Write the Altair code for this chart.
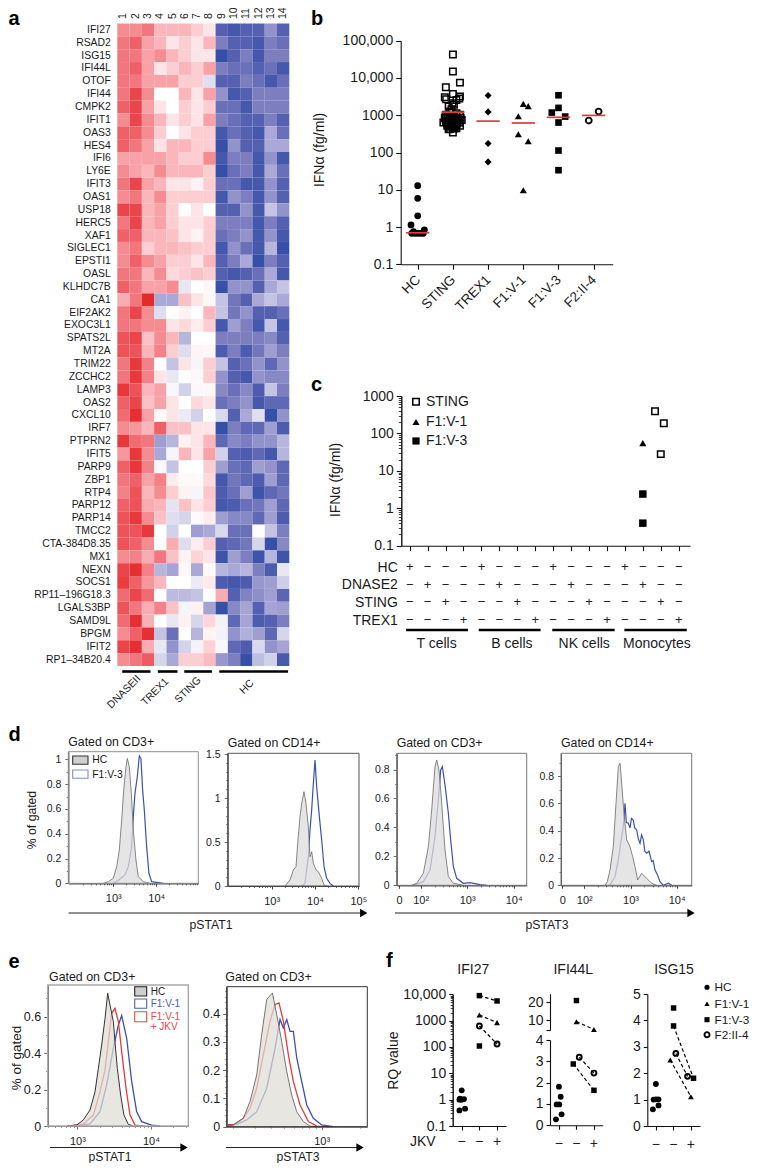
import numpy as np
import pandas as pd
import altair as alt

FONT = "Liberation Sans"
W, H = 742, 1155

# ---------- panel a ----------
genes = ["IFI27","RSAD2","ISG15","IFI44L","OTOF","IFI44","CMPK2","IFIT1","OAS3","HES4","IFI6","LY6E","IFIT3","OAS1","USP18","HERC5","XAF1","SIGLEC1","EPSTI1","OASL","KLHDC7B","CA1","EIF2AK2","EXOC3L1","SPATS2L","MT2A","TRIM22","ZCCHC2","LAMP3","OAS2","CXCL10","IRF7","PTPRN2","IFIT5","PARP9","ZBP1","RTP4","PARP12","PARP14","TMCC2","CTA-384D8.35","MX1","NEXN","SOCS1","RP11–196G18.3","LGALS3BP","SAMD9L","BPGM","IFIT2","RP1–34B20.4"]
heat = [
[5,5,6,3,3,3,2,1,-7,-8,-7,-7,-4,-7],
[6,7,4,3,1,2,1,3,-5,-7,-7,-8,-5,-6],
[6,6,4,5,3,2,1,1,-9,-7,-5,-8,-5,-5],
[6,7,4,1,2,3,2,4,-5,-6,-6,-7,-6,-8],
[6,6,4,4,4,2,2,-1,-7,-7,-5,-6,-8,-6],
[6,8,5,0,0,3,1,4,-4,-8,-7,-5,-5,-5],
[7,8,4,1,0,2,1,2,-6,-6,-8,-5,-5,-5],
[5,8,5,3,1,2,1,4,-5,-6,-7,-7,-5,-7],
[7,7,5,2,0,1,2,2,-8,-6,-7,-8,-3,-6],
[7,6,4,1,3,3,2,2,-9,-4,-7,-7,-3,-3],
[4,4,4,4,3,2,2,5,-8,-5,-5,-8,-4,-8],
[5,4,3,5,3,3,3,2,-9,-6,-5,-8,-3,-6],
[6,8,4,3,1,1,0.5,2,-6,-6,-8,-8,-4,-7],
[5,6,3,5,2,2,2,2,-8,-4,-5,-8,-4,-7],
[8,8,3,4,2,0,1,0,-7,-7,-4,-8,-2,-4],
[6,8,3,4,2,1,1,2,-5,-5,-5,-8,-5,-7],
[7,7,3,3,2.5,1,0.5,2,-6,-5,-4,-8,-4,-8],
[5,6,2,3,3,2.5,2,2,-8,-4,-6,-8,-2.5,-9],
[5,7,5,4,2,2,1,3,-7,-5,-3,-9,-5,-7],
[6,6,3,5,1.5,2,2.5,2,-7,-8,-7,-6,-3,-8],
[7,6,4,4,5,-0.7,0,0.3,-9,-4,-4,-7,-3,-2],
[3.5,6,9,-3,-3,2.5,1,0.3,-2,-5.5,-7,-3,-2,-3],
[6,8,5,-1,0,0.5,0,3,-2,-5.5,-4,-7,-7,-6],
[6,6,5,5,1,1.5,0.7,2,-8,-3.5,-5,-8,-2,-8],
[7.5,8,2.5,5,3,-2.5,0,0,-5,-5,-5,-5,-4.5,-7],
[7.5,7.5,3,5.5,2,-1,0.4,0.3,-7.5,-5,-7.5,-5.5,-3.5,-5],
[6,8.5,5.5,0,-2,1,-0.3,2,-2,-7,-6,-4,-6.5,-4],
[6,8.5,5.5,1,-0.7,0,0.3,2,-4,-7,-8,-4,-4.5,-4.5],
[8.5,7.5,3,4,-0.2,-1.5,0.3,0.3,-4.5,-6,-4.5,-7.5,-2,-5],
[7,8,2.5,4,1,0,1.5,1,-6,-5,-4,-8,-6.5,-6.5],
[6.5,8.8,4,0.2,1,-0.6,-1.5,0,-1.2,-7,-3,-1,-9,-4],
[5,4.5,3,7,2.5,2.5,1,1,-9,-5,-6.5,-6.5,-3.5,-7.5],
[8.5,6.5,6,-3.5,-2.5,0.5,1,3,-6.5,-4.5,-5,-4,-4,-2.5],
[4.5,8.5,5,-3,-0.3,3,1,4,-1.5,-7,-7.5,-6.5,-8,-2.5],
[7,8.5,5.5,0.3,-2,0,0,2,-3.5,-6,-6.5,-3.5,-4,-6.5],
[6,7,4,5.5,0.7,0.2,0.2,1.5,-8,-5.5,-6.5,-7.5,-3.5,-6.5],
[5.5,7.5,3,5,2,0.5,-0.3,2.3,-7.5,-6,-3.5,-8.5,-6.5,-5.5],
[7,7.5,3.5,3,-0.8,2.5,1,2,-8,-7.5,-6,-5.5,-3.5,-6.5],
[7.5,8.5,5,2.5,-1,-1.3,0.2,0.7,-3.5,-4.5,-4.5,-6.5,-3.5,-7.5],
[7.5,7.5,8.5,0,-1.5,0,-3.5,-3,-1.2,-6,-6,0.1,-2,-5],
[7.5,7,5,0,3.5,-1,0.7,2,-7,-6.5,-5.5,-1.3,-9,-4.5],
[5,5.5,3.5,6,2.5,0.5,1.7,1,-8.5,-3.5,-5,-8.5,-2.5,-8.5],
[8,8.8,5.5,-2.5,-3.2,0.3,-3,0.2,-2.5,-3,-2.5,-5,-7.5,-0.7],
[8.3,7,4.5,3,0,0,-0.6,0.8,-7.5,-8,-7.5,-3.8,-3.5,-1.6],
[6.5,8,6.5,0,-2.3,-2.3,-2,0,3.5,-7,-4.8,-4.2,-3.5,-6.7],
[7.5,6,3.5,5.5,2.5,-0.3,0.5,-3.3,-9,-4.5,-3.2,-7,-3.2,-3.5],
[6.5,8.8,3.3,0,-0.7,0.5,-1.3,1.6,-0.4,-6.5,-3.2,-7.5,-7,-5],
[5,7,8.8,-2,-6,0,-2.5,0.5,-0.4,-4,-2.7,-3.5,-6.5,-1.3],
[8,8.8,3.5,-0.7,-4,-1.4,-0.4,1.8,-0.2,-6.5,-7.5,-1.2,-4,-3.2],
[5,6,7.2,-1.3,-3,2,2,2.8,-3.8,-5,-9,-2.2,-1.5,-7.8],
]
columns = list(range(1, 15))
a_groups = ["DNASEII", "TREX1", "STING", "HC"]
a_group_start = [0.4, 3.3, 5.45, 8.3]
a_group_end = [2.7, 4.9, 7.7, 13.9]

# ---------- panel b ----------
b_names = ["HC", "STING", "TREX1", "F1:V-1", "F1:V-3", "F2:II-4"]
b_hc_x = [0, 0, 0, -0.19, 0.19, -0.17, -0.08, 0, 0.09, 0.16, -0.12]
b_hc_y = [12.9, 5.9, 2.0, 1.14, 0.84, 0.68, 0.68, 0.68, 0.68, 0.68, 0.75]
b_st_x = [1,1,1.2,0.8,1,0.77,1.2,0.81,1.1,0.99,1.18,0.88,1.03,0.96,0.91,1.1,0.81,1.2,1,0.77,0.91,1.1,1.25,0.81,1,1.18,0.73,0.91,1.08,0.84,1.2,0.99,1.1,0.88,1,
          0.78,0.86,0.95,1.04,1.14,1.22,0.8,0.9,0.98,1.06,1.16,0.84,0.94,1.02,1.12,0.88,0.97,1.07,0.92,1.03]
b_st_y = [42500,14900,7500,5650,3740,3050,3180,2690,2580,2100,2800,1710,1900,1450,1260,1130,1030,1030,925,830,780,780,750,680,680,640,640,590,550,520,520,480,450,420,345,
          870,900,860,880,850,860,720,710,730,700,720,600,610,590,600,500,510,490,430,440]
b_tr_x = [2, 2, 2, 2]
b_tr_y = [3380, 1230, 174, 56]
b_v1_x = [3, 3.14, 2.86, 2.86, 3.14, 3]
b_v1_y = [2020, 1750, 940, 310, 200, 9.7]
b_v3_x = [4, 4, 3.81, 4.19, 4, 4, 4]
b_v3_y = [3440, 1575, 1180, 920, 637, 113, 33.5]
b_f2_x = [4.86, 5.14]
b_f2_y = [720, 1255]
b_median = [0.70, 1210, 695, 620, 880, 990]

# ---------- panel c ----------
c_st_x, c_st_y = [13.68, 14.17, 14.0], [390, 187, 28]
c_v1_x, c_v1_y = [13.0], [55]
c_v3_x, c_v3_y = [13.0, 13.0], [2.4, 0.4]
c_rows = ["HC", "DNASE2", "STING", "TREX1"]
c_groups = ["T cells", "B cells", "NK cells", "Monocytes"]
c_group_start = [-0.2, 3.85, 7.95, 11.97]
c_group_end = [3.25, 7.3, 11.43, 15.45]
c_group_mid = [1.5, 5.7, 9.73, 13.78]

# ---------- panel d ----------
d1_hc_x = [2.767,2.884,3,3.078,3.14,3.194,3.248,3.295,3.326,3.372,3.419,3.465,3.527,3.581,3.698,3.853]
d1_hc_y = [0,.013,.04,.134,.269,.511,.78,.941,1.008,.941,.726,.43,.188,.054,.013,0]
d1_pt_x = [3,3.116,3.271,3.349,3.426,3.465,3.504,3.558,3.605,3.643,3.682,3.721,3.775,3.829,3.891,4.163]
d1_pt_y = [0,.022,.067,.134,.296,.538,.726,.86,1.027,1.008,.753,.591,.296,.081,.013,0]
d2_hc_x = [3.308,3.423,3.5,3.562,3.6,3.654,3.692,3.746,3.792,3.846,3.885,3.923,3.962,4.023,4.077,4.154,4.208,4.269]
d2_hc_y = [0,.068,.182,.22,.485,.788,.939,1.072,.939,.67,.333,.39,.258,.182,.163,.087,.011,0]
d2_pt_x = [3.692,3.769,3.846,3.885,3.923,3.962,4,4.038,4.1,4.154,4.208,4.269,4.346,4.423]
d2_pt_y = [0,.03,.333,.636,.864,1.167,1.432,1.129,.788,.523,.22,.087,.03,0]
d3_hc_x = [1.806,1.914,2.057,2.165,2.237,2.308,2.344,2.394,2.452,2.523,2.595,2.703,2.918]
d3_hc_y = [0,.014,.083,.267,.521,.82,.866,.797,.567,.244,.06,.014,0]
d3_pt_x = [1.842,2.057,2.201,2.308,2.38,2.43,2.466,2.523,2.595,2.645,2.703,2.774,2.918,3.061,3.276,3.419]
d3_pt_y = [0,.025,.106,.336,.59,.797,.82,.694,.498,.313,.129,.048,.014,.018,.005,0]
d4_hc_x = [2.448,2.498,2.556,2.628,2.686,2.736,2.773,2.809,2.859,2.917,2.989,3.047,3.097,3.155,3.242,3.35,3.458,3.567]
d4_hc_y = [0,.027,.112,.284,.601,.87,.895,.748,.528,.333,.284,.21,.137,.039,.088,.051,.015,0]
d4_pt_x = [2.556,2.664,2.736,2.809,2.845,2.881,2.91,2.953,2.99,3.02,3.061,3.09,3.134,3.17,3.206,3.24,3.278,3.31,3.35,3.4,3.458,3.49,3.531,3.58,3.639,3.711,3.819,3.892]
d4_pt_y = [0,.064,.186,.357,.43,.601,.46,.455,.42,.49,.479,.42,.406,.34,.308,.37,.333,.25,.235,.25,.174,.18,.112,.08,.027,0,.015,0]

# ---------- panel e ----------
e1_hc_x = [2.855,2.991,3.081,3.172,3.24,3.285,3.33,3.376,3.412,3.443,3.489,3.511,3.543,3.588,3.633,3.692,3.76]
e1_hc_y = [0,.005,.033,.088,.188,.316,.444,.59,.728,.664,.572,.463,.316,.170,.06,.009,0]
e1_rd_x = [2.9,3.081,3.217,3.308,3.376,3.421,3.466,3.511,3.557,3.602,3.661,3.715,3.783,3.896]
e1_rd_y = [0,.011,.06,.188,.307,.463,.618,.645,.572,.408,.207,.06,.005,0]
e1_bl_x = [2.946,3.172,3.308,3.398,3.489,3.557,3.602,3.67,3.738,3.805,3.873,4.009,4.122]
e1_bl_y = [0,.011,.079,.225,.426,.554,.605,.481,.243,.079,.024,.005,0]
e2_hc_x = [2.25,2.303,2.382,2.434,2.487,2.526,2.566,2.611,2.645,2.684,2.724,2.763,2.803,2.855,2.908,2.987]
e2_hc_y = [0,.006,.03,.089,.183,.325,.45,.473,.396,.302,.195,.112,.053,.018,.002,0]
e2_rd_x = [2.25,2.303,2.382,2.434,2.487,2.539,2.592,2.632,2.663,2.697,2.737,2.776,2.829,2.895,2.961,3.066]
e2_rd_y = [.006,.006,.03,.065,.136,.254,.373,.432,.438,.373,.254,.16,.077,.018,.002,0]
e2_bl_x = [2.25,2.329,2.408,2.487,2.566,2.632,2.671,2.697,2.724,2.75,2.776,2.803,2.842,2.882,2.934,3,3.092]
e2_bl_y = [.006,.008,.024,.053,.136,.278,.379,.349,.379,.337,.337,.243,.16,.077,.03,.006,0]

# ---------- panel f ----------
f_hc_x = [0, -0.13, 0, 0.13, -0.1, -0.13, 0.19]
f1_hc_y = [2.26, 1.0, 1.0, 1.05, 1.1, 0.39, 0.455]
f1_sq_x, f1_sq_y = [1, 2], [8900, 5590]
f1_sq2_x, f1_sq2_y = [1], [109]
f1_tr_x, f1_tr_y = [1, 2], [1640, 840]
f1_ci_x, f1_ci_y = [1, 2], [627, 130]
f2_hc_x = [-0.17, 0.15, -0.13, 0.02, 0.1, 0]
f2_hc_y = [0.28, 0.515, 0.98, 0.98, 1.34, 1.81]
f2_sq_x, f2_sq_y = [0.82, 2], [2.875, 1.64]
f2_ci_x, f2_ci_y = [1.16, 2], [3.19, 2.45]
f2_up_sq_x, f2_up_sq_y = [1], [21.1]
f2_tr_x, f2_tr_y = [1, 2], [9.06, 4.6]
f3_hc_x = [0, -0.17, 0.15, -0.13, 0, 0.15]
f3_hc_y = [1.59, 0.63, 0.78, 1.0, 1.01, 1.01]
f3_sq_x, f3_sq_y = [1.01, 2.15], [3.79, 1.81]
f3_sq2_x, f3_sq2_y = [1.01], [4.47]
f3_tr_x, f3_tr_y = [0.82, 2], [2.5, 1.11]
f3_ci_x, f3_ci_y = [1.14, 1.81], [2.75, 1.88]

BLUE, RED, INK = "#3c52a8", "#e8383a", "#111111"
layers = []


def X(p):
    return p - 8


def Y(p):
    return p - 8


def sc(dom, lo, hi, log=False, vertical=False):
    rng = [Y(hi), Y(lo)] if vertical else [X(lo), X(hi)]
    if log:
        return alt.Scale(type="log", domain=dom, range=rng, nice=False, zero=False)
    return alt.Scale(domain=dom, range=rng, nice=False, zero=False)


def frame(xs=None, ys=None):
    return pd.DataFrame({"x": xs, "y": ys})


def txt(text, x, y, size=12, align="left", baseline="middle", angle=0, color="#1a1a1a", weight="normal"):
    layers.append(
        alt.Chart(pd.DataFrame({"t": [text]}))
        .mark_text(font=FONT, fontSize=size, align=align, baseline=baseline, angle=angle, color=color, fontWeight=weight)
        .encode(x=alt.value(X(x)), y=alt.value(Y(y)), text="t:N")
    )


def pts(xs, ys, sx, sy, shape, size, filled=True, sw=1.6):
    mark = dict(shape=shape, size=size, color="black", opacity=1)
    if filled:
        mark.update(filled=True, strokeWidth=0)
    else:
        mark.update(filled=False, strokeWidth=sw)
    layers.append(
        alt.Chart(frame(xs, ys)).mark_point(**mark).encode(
            x=alt.X("x:Q", scale=sx, axis=None), y=alt.Y("y:Q", scale=sy, axis=None))
    )


def dashed(xs, ys, sx, sy):
    layers.append(
        alt.Chart(frame(xs, ys)).mark_line(color="black", strokeWidth=1.2, strokeDash=[3.5, 2.5]).encode(
            x=alt.X("x:Q", scale=sx, axis=None), y=alt.Y("y:Q", scale=sy, axis=None))
    )


def xaxis(sx, at, values, labels=None, size=10.5, tick=4, color=INK, dom=True, width=1.1, pad=3, angle=None, extra=None):
    kw = dict(orient="bottom", offset=Y(at) - H, values=values, title=None, grid=False, tickSize=tick,
              domain=dom, domainColor=color, tickColor=color, domainWidth=width, tickWidth=width,
              labelFontSize=size, labelColor="#1a1a1a", labelFont=FONT, labelPadding=pad,
              labelOverlap=False, labelFlush=False, labels=labels is not None)
    if labels is not None:
        kw["labelExpr"] = labels
    if angle is not None:
        kw["labelAngle"] = angle
    if extra:
        kw.update(extra)
    layers.append(
        alt.Chart(pd.DataFrame({"v": [values[0]]})).mark_point(opacity=0).encode(
            x=alt.X("v:Q", scale=sx, axis=alt.Axis(**kw)), y=alt.value(0))
    )


def yaxis(sy, at, values, labels=None, size=14, tick=5, color=INK, dom=True, width=1.1, pad=3):
    kw = dict(orient="left", offset=-X(at), values=values, title=None, grid=False, tickSize=tick,
              domain=dom, domainColor=color, tickColor=color, domainWidth=width, tickWidth=width,
              labelFontSize=size, labelColor="#1a1a1a", labelFont=FONT, labelPadding=pad,
              labelOverlap=False, labelFlush=False, labels=labels is not None)
    if labels is not None:
        kw["labelExpr"] = labels
    layers.append(
        alt.Chart(pd.DataFrame({"v": [values[0]]})).mark_point(opacity=0).encode(
            y=alt.Y("v:Q", scale=sy, axis=alt.Axis(**kw)), x=alt.value(0))
    )


def hbar(a, b, y, sx, width=2.5):
    layers.append(
        alt.Chart(pd.DataFrame({"a": [a], "b": [b]})).mark_rule(color="black", strokeWidth=width).encode(
            x=alt.X("a:Q", scale=sx, axis=None), x2="b:Q", y=alt.value(Y(y)))
    )


def vtext(text, x, y, size):
    txt(text, x, y, size, align="center", angle=270)


def swatch(x0, x1, y0, y1, fill, stroke):
    layers.append(
        alt.Chart(pd.DataFrame({"k": [0]})).mark_rect(fill=fill, stroke=stroke, strokeWidth=1.1).encode(
            x=alt.value(X(x0)), x2=alt.value(X(x1)), y=alt.value(Y(y0)), y2=alt.value(Y(y1)))
    )


def arrow(x0, x1, y):
    layers.append(
        alt.Chart(pd.DataFrame({"k": [0]})).mark_rule(color="#222222", strokeWidth=1).encode(
            x=alt.value(X(x0)), x2=alt.value(X(x1 - 3)), y=alt.value(Y(y)))
    )
    layers.append(
        alt.Chart(pd.DataFrame({"k": [0]})).mark_point(shape="triangle-right", size=70, filled=True, color="black", opacity=1, strokeWidth=0).encode(
            x=alt.value(X(x1 - 4)), y=alt.value(Y(y)))
    )


def curve(xs, ys, sx, sy, color, width=1.1):
    layers.append(
        alt.Chart(frame(xs, ys)).mark_line(color=color, strokeWidth=width).encode(
            x=alt.X("x:Q", scale=sx, axis=None), y=alt.Y("y:Q", scale=sy, axis=None))
    )


def filled(xs, ys, sx, sy, fill, opacity, line, width=0.9):
    layers.append(
        alt.Chart(frame(xs, ys)).mark_area(color=fill, opacity=opacity).encode(
            x=alt.X("x:Q", scale=sx, axis=None), y=alt.Y("y:Q", scale=sy, axis=None))
    )
    curve(xs, ys, sx, sy, line, width)


def box(sx, sy, xd, yd, color, width=1):
    layers.append(
        alt.Chart(pd.DataFrame({"a": [xd[0]], "b": [xd[1]], "c": [yd[0]], "d": [yd[1]]}))
        .mark_rect(fill=None, stroke=color, strokeWidth=width)
        .encode(x=alt.X("a:Q", scale=sx, axis=None), x2="b:Q", y=alt.Y("c:Q", scale=sy, axis=None), y2="d:Q")
    )


minor_f = [2, 3, 4, 5, 6, 7, 8, 9]


def log_minor(decades):
    return [float(np.log10(m)) + d for d in decades for m in minor_f]


def log_minor_raw(decades):
    return [m * 10.0 ** d for d in decades for m in minor_f]


POW = "datum.value < 2 ? '0' : '10' + ['', '', '²', '³', '⁴', '⁵'][round(datum.value)]"

# ================= panel letters =================
for letter, x, y in [("a", 8.5, 18.5), ("b", 311, 18.5), ("c", 311, 385), ("d", 8.5, 735), ("e", 8.5, 962), ("f", 386, 961)]:
    txt(letter, x, y, 20, weight="bold", color="black")

# ================= a =================
heat_df = pd.DataFrame(
    [{"g": g, "c": c, "v": v} for g, row in zip(genes, heat) for c, v in zip(columns, row)]
)
layers.append(
    alt.Chart(heat_df).mark_rect(stroke=None).encode(
        x=alt.X("c:O", scale=alt.Scale(type="band", domain=columns, range=[X(117.3), X(289.3)], paddingInner=0, paddingOuter=0),
                axis=alt.Axis(orient="top", offset=-Y(23.5), title=None, domain=False, ticks=False, labelAngle=270,
                              labelAlign="left", labelBaseline="middle", labelFontSize=10.5, labelFont=FONT,
                              labelPadding=5, labelColor="#1a1a1a", labelOverlap=False)),
        y=alt.Y("g:O", scale=alt.Scale(type="band", domain=genes, range=[Y(23.5), Y(666)], paddingInner=0, paddingOuter=0),
                axis=alt.Axis(orient="left", offset=-X(117.3), title=None, domain=False, ticks=False,
                              labelFontSize=10.4, labelFont=FONT, labelPadding=7, labelColor="#1a1a1a", labelOverlap=False)),
        color=alt.Color("v:Q", legend=None, scale=alt.Scale(
            domain=[-9, -7, -5, -3, -1, 0, 1, 3, 5, 7, 9],
            range=["#3550a6", "#5560b0", "#7c7ebf", "#a9a8d6", "#dedeef", "#ffffff", "#fde4e6", "#fab6bb", "#f58c92", "#ef6068", "#e52a2c"],
            interpolate="rgb")),
    )
)
sa = sc([0, 14], 117.3, 289.3)
for a, b in zip(a_group_start, a_group_end):
    hbar(a, b, 671.5, sa, 2.6)
for name, x, y in zip(a_groups, [124, 155, 188, 247], [692, 692, 690, 687]):
    txt(name, x, y, 10.5, align="center", angle=315)

# ================= b =================
bx = sc([-0.483, 5.54], 400.7, 612.7)
by = sc([0.1, 100000], 40.7, 264.3, log=True, vertical=True)
xaxis(bx, 264.3, [0, 1, 2, 3, 4, 5], "['HC','STING','TREX1','F1:V-1','F1:V-3','F2:II-4'][round(datum.value)]", size=13.5,
      tick=5, pad=8, angle=315, extra=dict(labelAlign="right", labelBaseline="middle"))
yaxis(by, 400.7, [0.1, 1, 10, 100, 1000, 10000, 100000], "datum.value >= 10000 ? format(datum.value, ',') : '' + datum.value", size=14)
vtext("IFNα (fg/ml)", 319.5, 150, 14)
pts(b_hc_x, b_hc_y, bx, by, "circle", 46)
pts(b_st_x, b_st_y, bx, by, "square", 42, filled=False, sw=1.5)
pts(b_tr_x, b_tr_y, bx, by, "diamond", 50)
pts(b_v1_x, b_v1_y, bx, by, "triangle-up", 50)
pts(b_v3_x, b_v3_y, bx, by, "square", 44)
pts(b_f2_x, b_f2_y, bx, by, "circle", 34, filled=False, sw=1.9)
for i, m in enumerate(b_median):
    layers.append(
        alt.Chart(pd.DataFrame({"a": [i - 0.33], "b": [i + 0.33], "y": [m]})).mark_rule(color="#e23a3c", strokeWidth=1.7).encode(
            x=alt.X("a:Q", scale=bx, axis=None), x2="b:Q", y=alt.Y("y:Q", scale=by, axis=None))
    )

# ================= c =================
cx = sc([-0.468, 15.63], 401.3, 690)
cy = sc([0.1, 1000], 396, 545.7, log=True, vertical=True)
xaxis(cx, 545.7, list(range(16)), None, tick=5)
yaxis(cy, 401.3, [0.1, 1, 10, 100, 1000], "'' + datum.value", size=14, tick=5)
yaxis(cy, 401.3, log_minor_raw([-1, 0, 1, 2]), None, tick=3, width=0.8)
vtext("IFNα (fg/ml)", 336, 480, 14)
pts(c_st_x, c_st_y, cx, cy, "square", 42, filled=False, sw=1.5)
pts(c_v1_x, c_v1_y, cx, cy, "triangle-up", 50)
pts(c_v3_x, c_v3_y, cx, cy, "square", 56)
signs = pd.DataFrame(
    [{"i": i, "r": r, "s": "+" if i % 4 == k else "−"} for i in range(16) for k, r in enumerate(c_rows)]
)
crow = alt.Scale(type="point", domain=c_rows, range=[Y(567), Y(620)], padding=0)
layers.append(
    alt.Chart(signs).mark_text(font=FONT, fontSize=13, color="#222222").encode(
        x=alt.X("i:Q", scale=cx, axis=None),
        y=alt.Y("r:O", scale=crow,
                axis=alt.Axis(orient="left", offset=-X(401.3), title=None, domain=False, ticks=False, labelFontSize=14,
                              labelFont=FONT, labelPadding=4, labelColor="#1a1a1a", labelOverlap=False)),
        text="s:N",
    )
)
for a, b, mid, name in zip(c_group_start, c_group_end, c_group_mid, c_groups):
    hbar(a, b, 630, cx, 2.6)
    layers.append(
        alt.Chart(pd.DataFrame({"m": [mid], "t": [name]})).mark_text(font=FONT, fontSize=14, color="#1a1a1a").encode(
            x=alt.X("m:Q", scale=cx, axis=None), y=alt.value(Y(644)), text="t:N")
    )
# legend of c
for shape, y, name, fl in [("square", 401.7, "STING", False), ("triangle-up", 422, "F1:V-1", True), ("square", 441, "F1:V-3", True)]:
    layers.append(
        alt.Chart(pd.DataFrame({"k": [0]})).mark_point(shape=shape, size=42 if not fl else 52, filled=fl, color="black", opacity=1,
                                                      strokeWidth=1.5 if not fl else 0).encode(x=alt.value(X(416)), y=alt.value(Y(y)))
    )
    txt(name, 426, y, 14)


# ================= d =================
def d_panel(x0, x1, top, bottom, xdom, ydom, yticks, yminor, xticks, xminor, hc_x, hc_y, pt_x, pt_y, title, frame_col):
    sx = sc(xdom, x0, x1)
    sy = sc(ydom, top, bottom, vertical=True)
    curve(pt_x, pt_y, sx, sy, BLUE, 1.2)
    filled(hc_x, hc_y, sx, sy, "#dcdcdc", 0.75, "#6a6a6a", 0.8)
    box(sx, sy, xdom, ydom, frame_col)
    xaxis(sx, bottom, xticks, POW, size=11, tick=3, color="#333333", width=0.9, pad=6)
    xaxis(sx, bottom, xminor, None, tick=1.5, color="#333333", width=0.7)
    yaxis(sy, x0, yticks, "'' + datum.value", size=10.5, tick=3.5, color="#444444", width=0.8, pad=4)
    yaxis(sy, x0, yminor, None, tick=2, color="#444444", width=0.7)
    txt(title, x0, top - 10, 12.3)


d_panel(68.3, 198.3, 751.7, 883.3, [1.953, 4.977], [0, 1.062], [0, .2, .4, .6, .8, 1], [.1, .3, .5, .7, .9],
        [3, 4, 5], log_minor([2, 3, 4]), d1_hc_x, d1_hc_y, d1_pt_x, d1_pt_y, "Gated on CD3+", "#8f8f8f")
d_panel(227.7, 359, 753.3, 886, [1.985, 5.015], [0, 1.508], [0, .5, 1, 1.5], [.1, .2, .3, .4, .6, .7, .8, .9, 1.1, 1.2, 1.3, 1.4],
        [3, 4, 5], log_minor([2, 3, 4]), d2_hc_x, d2_hc_y, d2_pt_x, d2_pt_y, "Gated on CD14+", "#555555")
d_panel(396.7, 526.7, 753.3, 885.3, [1.484, 4.28], [0, .912], [0, .2, .4, .6, .8], [.1, .3, .5, .7, .9],
        [1.534, 2, 3, 4], log_minor([2, 3]), d3_hc_x, d3_hc_y, d3_pt_x, d3_pt_y, "Gated on CD3+", "#777777")
d_panel(561, 691.7, 753.3, 885.3, [1.495, 4.325], [0, .968], [0, .2, .4, .6, .8], [.1, .3, .5, .7, .9],
        [1.523, 2, 3, 4], log_minor([2, 3]), d4_hc_x, d4_hc_y, d4_pt_x, d4_pt_y, "Gated on CD14+", "#777777")
vtext("% of gated", 31.7, 820, 12.2)
swatch(72.7, 88, 756, 764.3, "#d0d0d0", "#333333")
swatch(72.7, 88, 770, 778.3, "#ffffff", "#7f8bcc")
txt("HC", 92.3, 760, 10.3)
txt("F1:V-3", 92.3, 775, 10.3)
arrow(68.6, 367.7, 913)
arrow(395, 695, 913)
txt("pSTAT1", 211, 925, 12.2, align="center")
txt("pSTAT3", 547, 925, 12.2, align="center")

# ================= e =================
e1x = sc([2.597, 4.507], 47.7, 188.3)
e1y = sc([0, .773], 985, 1126, vertical=True)
curve(e1_bl_x, e1_bl_y, e1x, e1y, BLUE, 1.3)
curve(e1_rd_x, e1_rd_y, e1x, e1y, RED, 1.3)
filled(e1_hc_x, e1_hc_y, e1x, e1y, "#dedcd5", 0.72, "#333333", 1)
box(e1x, e1y, [2.597, 4.507], [0, .773], "#aaaaaa", 1.4)
xaxis(e1x, 1126, [3, 4], POW, size=11, tick=3, color="#555555", width=0.8, pad=6)
xaxis(e1x, 1126, log_minor([2, 3, 4]), None, tick=1.5, color="#555555", width=0.6)
yaxis(e1y, 47.7, [0, .2, .4, .6], "'' + datum.value", size=12.5, tick=4, color="#444444", width=0.8, pad=3)
yaxis(e1y, 47.7, [.1, .3, .5, .7], None, tick=2, color="#444444", width=0.7)
txt("Gated on CD3+", 49, 976.7, 12.4)

e2x = sc([2.25, 3.36], 226.7, 367.3)
e2y = sc([0, .495], 986.7, 1126.7, vertical=True)
curve(e2_bl_x, e2_bl_y, e2x, e2y, BLUE, 1.3)
curve(e2_rd_x, e2_rd_y, e2x, e2y, RED, 1.3)
filled(e2_hc_x, e2_hc_y, e2x, e2y, "#dedcd5", 0.72, "#666666", 0.9)
box(e2x, e2y, [2.25, 3.36], [0, .495], "#333333", 1)
xaxis(e2x, 1126.7, [3], POW, size=11, tick=3, color="#555555", width=0.8, pad=6)
xaxis(e2x, 1126.7, [v for v in log_minor([2, 3]) if 2.25 < v < 3.36], None, tick=1.5, color="#555555", width=0.6)
yaxis(e2y, 226.7, [0, .1, .2, .3, .4], "'' + datum.value", size=12.5, tick=4, color="#444444", width=0.8, pad=3)
yaxis(e2y, 226.7, [.02, .04, .06, .08, .12, .14, .16, .18, .22, .24, .26, .28, .32, .34, .36, .38, .42, .44, .46, .48], None, tick=2, color="#444444", width=0.6)
txt("Gated on CD3+", 225.3, 976.7, 12.4)

vtext("% of gated", 16.5, 1058, 13.5)
swatch(134.7, 146.7, 986.7, 996, "#cfcfcf", "#222222")
swatch(134.7, 146.7, 999, 1008.3, "#ffffff", "#4a60b8")
swatch(134.7, 146.7, 1011.7, 1021.7, "#ffffff", "#e8484a")
txt("HC", 150.7, 991.7, 10, color="#222222")
txt("F1:V-1", 150.7, 1004, 10, color="#4a60b8")
txt("F1:V-1", 150.7, 1016.7, 10, color="#e8484a")
txt("+ JKV", 150.7, 1027.3, 10, color="#e8484a")
arrow(50, 188, 1147.5)
arrow(226, 364, 1147.5)
txt("pSTAT1", 110, 1156.5, 12.2, align="center")
txt("pSTAT3", 298, 1156.5, 12.2, align="center")

# ================= f =================
f1x = sc([-0.51, 2.507], 452.7, 506)
f1y = sc([0.1, 10000], 994.3, 1126, log=True, vertical=True)
xaxis(f1x, 1126, [0, 1, 2], None, tick=4)
yaxis(f1y, 452.7, [0.1, 1, 10, 100, 1000, 10000], "datum.value >= 10000 ? format(datum.value, ',') : '' + datum.value", size=14, tick=4)
yaxis(f1y, 452.7, log_minor_raw([-1, 0, 1, 2, 3]), None, tick=2.5, width=0.8)
pts(f_hc_x, f1_hc_y, f1x, f1y, "circle", 34)
dashed(f1_sq_x, f1_sq_y, f1x, f1y)
dashed(f1_tr_x, f1_tr_y, f1x, f1y)
dashed(f1_ci_x, f1_ci_y, f1x, f1y)
pts(f1_sq_x + f1_sq2_x, f1_sq_y + f1_sq2_y, f1x, f1y, "square", 30)
pts(f1_tr_x, f1_tr_y, f1x, f1y, "triangle-up", 34)
pts(f1_ci_x, f1_ci_y, f1x, f1y, "circle", 24, filled=False, sw=1.9)
txt("IFI27", 473.3, 970, 14, align="center")

f2x = sc([-0.51, 2.5], 550, 602.7)
f2lo = sc([0, 4], 1040, 1125.3, vertical=True)
f2up = sc([4.3, 25], 993.7, 1030, vertical=True)
xaxis(f2x, 1125.3, [0, 1, 2], None, tick=4)
yaxis(f2lo, 550, [0, 1, 2, 3, 4], "'' + datum.value", size=14, tick=4)
yaxis(f2up, 550, [4.3, 10, 20], "datum.value < 5 ? '' : '' + datum.value", size=14, tick=4)
pts(f2_hc_x, f2_hc_y, f2x, f2lo, "circle", 34)
dashed(f2_sq_x, f2_sq_y, f2x, f2lo)
dashed(f2_ci_x, f2_ci_y, f2x, f2lo)
dashed(f2_tr_x, f2_tr_y, f2x, f2up)
pts(f2_sq_x, f2_sq_y, f2x, f2lo, "square", 30)
pts(f2_ci_x, f2_ci_y, f2x, f2lo, "circle", 24, filled=False, sw=1.9)
pts(f2_up_sq_x, f2_up_sq_y, f2x, f2up, "square", 30)
pts(f2_tr_x, f2_tr_y, f2x, f2up, "triangle-up", 34)
txt("IFI44L", 573.3, 970, 14, align="center")

f3x = sc([-0.49, 2.52], 647.3, 700)
f3y = sc([0, 5], 994, 1126, vertical=True)
xaxis(f3x, 1126, [0, 1, 2], None, tick=4)
yaxis(f3y, 647.3, [0, 1, 2, 3, 4, 5], "'' + datum.value", size=14, tick=4)
pts(f3_hc_x, f3_hc_y, f3x, f3y, "circle", 34)
dashed(f3_sq_x, f3_sq_y, f3x, f3y)
dashed(f3_tr_x, f3_tr_y, f3x, f3y)
dashed(f3_ci_x, f3_ci_y, f3x, f3y)
pts(f3_sq_x + f3_sq2_x, f3_sq_y + f3_sq2_y, f3x, f3y, "square", 30)
pts(f3_tr_x, f3_tr_y, f3x, f3y, "triangle-up", 34)
pts(f3_ci_x, f3_ci_y, f3x, f3y, "circle", 24, filled=False, sw=1.9)
txt("ISG15", 674, 970, 14, align="center")

vtext("RQ value", 394, 1060.7, 14)
txt("JKV", 410, 1142, 14)
for sx, y in [(f1x, 1142), (f2x, 1144), (f3x, 1145)]:
    layers.append(
        alt.Chart(pd.DataFrame({"i": [0, 1, 2], "s": ["−", "−", "+"]})).mark_text(font=FONT, fontSize=14, color="#222222").encode(
            x=alt.X("i:Q", scale=sx, axis=None), y=alt.value(Y(y)), text="s:N")
    )
for shape, y, name, fl in [("circle", 987.3, "HC", True), ("triangle-up", 1003.7, "F1:V-1", True),
                           ("square", 1019.7, "F1:V-3", True), ("circle", 1034.7, "F2:II-4", False)]:
    layers.append(
        alt.Chart(pd.DataFrame({"k": [0]})).mark_point(shape=shape, size=26, filled=fl, color="black", opacity=1,
                                                      strokeWidth=0 if fl else 1.9).encode(x=alt.value(X(707)), y=alt.value(Y(y)))
    )
    txt(name, 714.5, y, 11.8)

chart = (
    alt.layer(*layers)
    .resolve_scale(x="independent", y="independent", color="independent")
    .resolve_axis(x="independent", y="independent")
    .properties(width=W, height=H, padding=0, autosize=alt.AutoSizeParams(type="none"))
    .configure_view(stroke=None)
)
chart.save("out.html", embed_options={"renderer": "svg", "actions": False})
